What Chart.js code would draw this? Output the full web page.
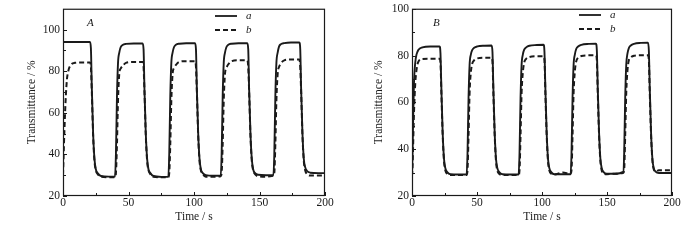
<!DOCTYPE html>
<html>
<head>
<meta charset="utf-8">
<script src="https://cdn.jsdelivr.net/npm/chart.js@4"></script>
<style>
  body { margin: 0; background: #fff; }
  .row { display: flex; width: 700px; height: 240px; }
  canvas { display: block; }
</style>
</head>
<body>
<div class="row">
  <canvas id="panelA" width="350" height="240"></canvas>
  <canvas id="panelB" width="350" height="240"></canvas>
</div>
<script>
// tick labels
const xTicks = [0, 50, 100, 150, 200];
const yTicksA = [20, 40, 60, 80, 100];
const yTicksB = [20, 40, 60, 80, 100];
const seriesNames = ['a', 'b'];
const panelNames = ['A', 'B'];

// panel A, time in s
const timeA = [
  0, 0.5, 1, 2, 3, 4, 6, 9, 14, 20.6,
  21.3, 22, 23, 24, 25, 26.5, 29, 35, 39.7,
  40.4, 41.2, 42, 43, 44, 45.5, 48, 54, 60.8,
  61.5, 62.2, 63.2, 64.2, 65.2, 66.7, 69, 75, 80.4,
  81.1, 81.9, 82.7, 83.7, 84.7, 86.2, 88.7, 94, 100.8,
  101.5, 102.2, 103.2, 104.2, 105.2, 106.7, 109, 115, 120.4,
  121.1, 121.9, 122.7, 123.7, 124.7, 126.2, 128.7, 134, 140.7,
  141.4, 142.1, 143.1, 144.1, 145.1, 146.6, 149, 155, 160.6,
  161.3, 162.1, 162.9, 163.9, 164.9, 166.4, 168.9, 174, 180.4,
  181.1, 181.8, 182.8, 183.8, 184.8, 186.3, 188.7, 195, 200
];
const transA_a = [
  94, 94, 94, 94, 94, 94, 94, 94, 94, 94,
  91, 72, 50, 38, 33, 31, 29.6, 29.3, 29.3,
  40, 68, 84, 89, 91.5, 92.6, 93.1, 93.3, 93.3,
  90.5, 71, 50, 38, 33, 31, 29.6, 29.2, 29.2,
  40, 68, 84, 89, 91.5, 92.7, 93.2, 93.4, 93.4,
  90.5, 71, 50, 38, 33, 31, 30, 29.7, 29.7,
  40, 68, 84, 89, 91.5, 92.7, 93.2, 93.4, 93.4,
  90.5, 71, 50, 38, 33, 31, 30.2, 30, 30,
  40, 68, 84, 89, 91.8, 93, 93.5, 93.8, 93.8,
  90.5, 71, 50, 38, 34, 32, 31.2, 31, 31
];
const transA_b = [
  30, 40, 50, 66, 76, 80, 83, 84, 84.2, 84.2,
  82, 70, 49, 37, 32.5, 30.5, 29.3, 29, 29,
  31, 45, 66, 79, 81.2, 82.5, 84, 84.4, 84.4,
  82, 70, 49, 37, 32.5, 30.5, 29.2, 29, 29,
  31, 45, 66, 79, 81.5, 83, 84.5, 84.8, 84.8,
  82, 70, 49, 37, 32.5, 30.5, 29.3, 29.2, 29.5,
  31, 45, 66, 79, 81.5, 83.3, 84.8, 85.2, 85.2,
  82, 70, 49, 37, 32.5, 30.5, 29.5, 29.3, 29.8,
  31, 45, 66, 79, 82, 83.8, 85.2, 85.6, 85.6,
  82, 70, 49, 37, 32.5, 30.5, 29.8, 29.8, 29.8
];

// panel B, time in s
const timeB = [
  0, 0.4, 0.8, 1.5, 2.5, 3.5, 5, 8, 14, 21.2,
  21.9, 22.6, 23.6, 24.6, 25.6, 27.1, 29.6, 36, 42,
  42.7, 43.5, 44.3, 45.3, 46.3, 47.8, 50.3, 56, 61.2,
  61.9, 62.6, 63.6, 64.6, 65.6, 67.1, 69.6, 76, 82,
  82.7, 83.5, 84.3, 85.3, 86.3, 87.8, 90.3, 96, 101.2,
  101.9, 102.6, 103.6, 104.6, 105.6, 107.1, 109.6, 116, 122,
  122.7, 123.5, 124.3, 125.3, 126.3, 127.8, 130.3, 136, 141.5,
  142.2, 142.9, 143.9, 144.9, 145.9, 147.4, 149.9, 156, 162.5,
  163.2, 164, 164.8, 165.8, 166.8, 168.3, 170.8, 176, 181.5,
  182.2, 182.9, 183.9, 184.9, 185.9, 187.4, 189.9, 195, 200
];
const transB_a = [
  29, 38, 50, 68, 77, 80.5, 82.5, 83.5, 83.9, 83.9,
  81, 66, 47, 36, 32, 30.2, 29.3, 29.2, 29.2,
  38, 62, 76, 80.5, 82.3, 83.3, 83.9, 84.2, 84.3,
  81.5, 66, 47, 36, 32, 30.2, 29.3, 29.2, 29.2,
  38, 62, 76, 80.5, 82.5, 83.5, 84.2, 84.5, 84.6,
  81.5, 66, 47, 36, 32, 30.2, 29.3, 29.3, 29.3,
  38, 62, 76, 80.5, 82.8, 83.9, 84.6, 85, 85.1,
  82, 66, 47, 36, 32, 30.2, 29.5, 29.5, 30.3,
  38, 62, 76, 81, 83.2, 84.3, 85, 85.4, 85.5,
  82, 66, 47, 36, 32, 30.4, 29.8, 29.8, 29.8
];
const transB_b = [
  28.5, 32, 40, 55, 68, 74, 77.5, 78.5, 78.6, 78.6,
  77, 64, 46, 35, 31, 29.5, 29, 29, 29,
  31, 46, 64, 73, 76.5, 78, 78.8, 79.1, 79.1,
  77.5, 64, 46, 35, 31, 29.5, 29, 29, 29,
  31, 46, 64, 73, 77, 78.6, 79.4, 79.7, 79.7,
  78, 64, 46, 35, 31, 29.5, 29.2, 30, 29.5,
  31, 46, 64, 73.5, 77.5, 79, 79.8, 80.1, 80.1,
  78, 64, 46, 35, 31, 29.5, 29.3, 29.5, 29.8,
  31, 46, 64, 74, 78, 79.2, 79.9, 80.1, 80.1,
  78, 64, 46, 35.5, 31.5, 30.5, 31, 31, 31
];

const serif = '"Liberation Serif", "Times New Roman", serif';
const ink = '#1a1a1a';

// box, inward ticks, panel letter and legend
const framePlugin = {
  id: 'frame',
  afterDraw(chart, args, opts) {
    const {ctx, chartArea: {left, right, top, bottom}, scales: {x, y}} = chart;
    ctx.save();
    ctx.strokeStyle = ink;
    ctx.lineWidth = 1.2;
    ctx.strokeRect(left + 0.5, top + 0.5, right - left - 1, bottom - top - 1);

    ctx.beginPath();
    ctx.lineWidth = 1;
    xTicks.forEach((v, i) => {
      const px = Math.round(x.getPixelForValue(v)) + 0.5;
      ctx.moveTo(px, bottom); ctx.lineTo(px, bottom - 4);
      if (i < xTicks.length - 1) {
        const mx = Math.round(x.getPixelForValue((v + xTicks[i + 1]) / 2)) + 0.5;
        ctx.moveTo(mx, bottom); ctx.lineTo(mx, bottom - 3);
      }
    });
    opts.yTicks.forEach((v, i) => {
      const py = Math.round(y.getPixelForValue(v)) + 0.5;
      ctx.moveTo(left, py); ctx.lineTo(left + 4, py);
      const next = i < opts.yTicks.length - 1 ? opts.yTicks[i + 1] : v + 20;
      const mid = (v + next) / 2;
      if (mid < y.max) {
        const my = Math.round(y.getPixelForValue(mid)) + 0.5;
        ctx.moveTo(left, my); ctx.lineTo(left + 3, my);
      }
    });
    ctx.stroke();

    ctx.fillStyle = ink;
    ctx.font = 'italic 11px ' + serif;
    ctx.textBaseline = 'middle';
    ctx.fillText(opts.panel, opts.panelX, 23);

    chart.data.datasets.forEach((ds, i) => {
      const ly = opts.legendY + i * 14;
      ctx.beginPath();
      ctx.lineWidth = 1.8;
      ctx.setLineDash(ds.borderDash || []);
      ctx.moveTo(opts.legendX, ly);
      ctx.lineTo(opts.legendX + 22, ly);
      ctx.stroke();
      ctx.setLineDash([]);
      ctx.fillText(ds.label, opts.legendX + 31, ly);
    });
    ctx.restore();
  }
};

function makePanel(id, time, aVals, bVals, yMax, yTicks, opt) {
  return new Chart(document.getElementById(id), {
    type: 'line',
    data: {
      datasets: [
        {
          label: seriesNames[0],
          data: time.map((t, i) => ({x: t, y: aVals[i]})),
          borderColor: ink,
          borderWidth: 1.9,
          pointRadius: 0,
          cubicInterpolationMode: 'monotone'
        },
        {
          label: seriesNames[1],
          data: time.map((t, i) => ({x: t, y: bVals[i]})),
          borderColor: ink,
          borderWidth: 2,
          borderDash: [5, 3],
          pointRadius: 0,
          cubicInterpolationMode: 'monotone'
        }
      ]
    },
    options: {
      responsive: false,
      animation: false,
      events: [],
      layout: {
        padding: {left: 0, right: opt.padRight, top: 6, bottom: 0}
      },
      scales: {
        x: {
          type: 'linear',
          min: 0,
          max: 200,
          afterBuildTicks: s => { s.ticks = xTicks.map(v => ({value: v})); },
          afterFit: s => { s.height = 44; },
          grid: {display: false, drawTicks: false},
          border: {display: false},
          ticks: {
            padding: 1,
            color: ink,
            font: {family: serif, size: 11.5, lineHeight: 1}
          },
          title: {
            display: true,
            text: 'Time / s',
            color: ink,
            padding: {top: 0, bottom: 16},
            font: {family: serif, size: 11.5}
          }
        },
        y: {
          min: 20,
          max: yMax,
          afterBuildTicks: s => { s.ticks = yTicks.map(v => ({value: v})); },
          afterFit: s => { s.width = opt.yWidth; },
          grid: {display: false, drawTicks: false},
          border: {display: false},
          ticks: {
            padding: 3,
            color: ink,
            font: {family: serif, size: 11.5, lineHeight: 1}
          },
          title: {
            display: true,
            text: 'Transmittance / %',
            color: ink,
            padding: {top: opt.titlePad, bottom: 0},
            font: {family: serif, size: 11.5}
          }
        }
      },
      plugins: {
        legend: {display: false},
        tooltip: {enabled: false},
        frame: {
          panel: opt.panel,
          panelX: opt.panelX,
          legendX: opt.legendX,
          legendY: opt.legendY,
          yTicks: yTicks
        }
      }
    },
    plugins: [framePlugin]
  });
}

makePanel('panelA', timeA, transA_a, transA_b, 110, yTicksA,
  {panel: panelNames[0], padRight: 25, yWidth: 63, titlePad: 25, panelX: 87, legendX: 215, legendY: 16});
makePanel('panelB', timeB, transB_a, transB_b, 100, yTicksB,
  {panel: panelNames[1], padRight: 28, yWidth: 62, titlePad: 22, panelX: 83, legendX: 229, legendY: 15});
</script>
</body>
</html>
